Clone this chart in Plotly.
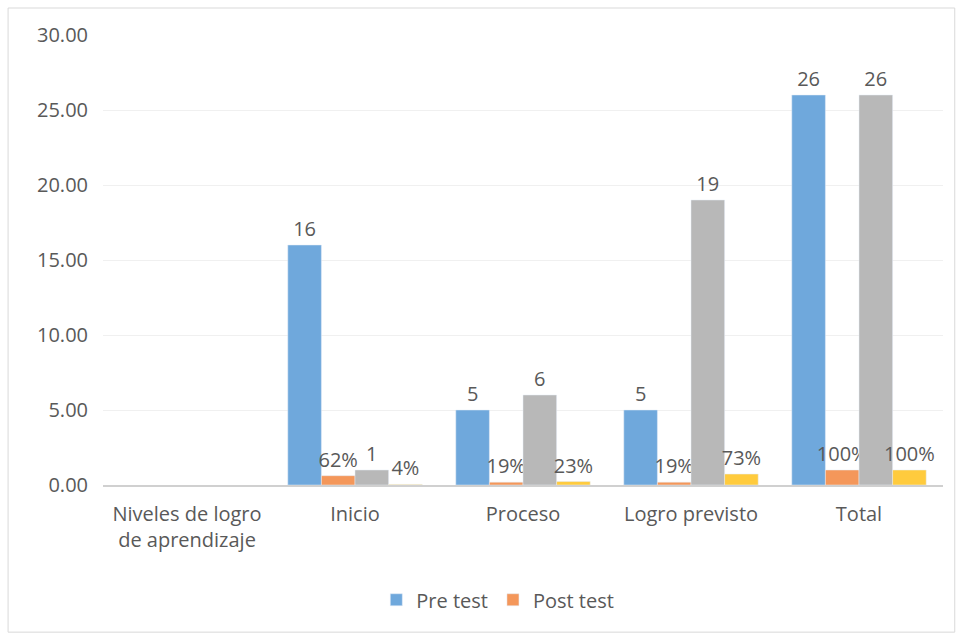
import plotly.graph_objects as go

categories = ["Niveles de logro<br>de aprendizaje", "Inicio", "Proceso", "Logro previsto", "Total"]
pre_test = [None, 16, 5, 5, 26]
post_test_pct = [None, 0.62, 0.19, 0.19, 1.00]
gray_counts = [None, 1, 6, 19, 26]
yellow_pct = [None, 0.04, 0.23, 0.73, 1.00]

def fmt_n(v):
    return [("" if x is None else f"{x:d}") for x in v]

def fmt_p(v):
    return [("" if x is None else f"{round(x*100):d}%") for x in v]

FS = 20
txt_font = dict(family="Open Sans", size=FS, color="#595959")
common = dict(textposition="outside", textfont=txt_font, cliponaxis=False, constraintext="none")

fig = go.Figure()
fig.add_bar(x=categories, y=pre_test, name="Pre test", marker_color="#6FA8DC",
            text=fmt_n(pre_test), **common)
fig.add_bar(x=categories, y=post_test_pct, name="Post test", marker_color="#F4975A",
            text=fmt_p(post_test_pct), **common)
fig.add_bar(x=categories, y=gray_counts, name="", showlegend=False, marker_color="#B8B8B8",
            text=fmt_n(gray_counts), **common)
fig.add_bar(x=categories, y=yellow_pct, name="", showlegend=False, marker_color="#FFCB3D",
            text=fmt_p(yellow_pct), **common)

fig.update_layout(
    width=956, height=634,
    margin=dict(l=103, r=13, t=35, b=149),
    paper_bgcolor="white", plot_bgcolor="white",
    barmode="group", bargap=0.2, bargroupgap=0,
    font=dict(family="Open Sans", size=FS, color="#595959"),
    legend=dict(orientation="h", x=0.47, xanchor="center", y=-0.255, yanchor="middle",
                font=dict(size=FS, color="#595959"), itemwidth=30),
    shapes=[dict(type="rect", xref="paper", yref="paper", x0=-0.113, x1=1.014, y0=-0.327, y1=1.06,
                 line=dict(color="#D9D9D9", width=1), fillcolor="rgba(0,0,0,0)", layer="below")],
)
fig.update_yaxes(range=[0, 30], dtick=5, tickformat=".2f", showgrid=True, gridcolor="#F0F0F0",
                 zeroline=False, showline=False, ticks="", ticklabelstandoff=14)
fig.update_xaxes(showline=True, linecolor="#D0D0D0", linewidth=2, ticks="", showgrid=False,
                 ticklabelstandoff=10)

fig.write_html("out.html")
